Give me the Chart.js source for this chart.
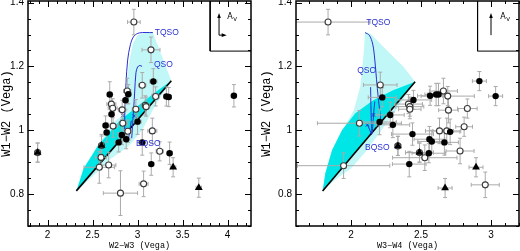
<!DOCTYPE html>
<html>
<head>
<meta charset="utf-8">
<script src="https://cdn.jsdelivr.net/npm/chart.js@4.4.1/dist/chart.umd.min.js"></script>
<style>
  html, body { margin: 0; padding: 0; background: #fff; }
  #wrap { position: relative; width: 520px; height: 251px; overflow: hidden; }
  canvas { position: absolute; top: 0; }
  #chartL { left: 0; }
  #chartR { left: 260px; }
</style>
</head>
<body>
<div id="wrap">
  <canvas id="chartL" width="260" height="251"></canvas>
  <canvas id="chartR" width="260" height="251"></canvas>
</div>
<script>
// ---- axes ----
const Y_TICKS = [0.8, 1, 1.2, 1.4];
const X_TICKS_L = [2, 2.5, 3, 3.5, 4];
const X_TICKS_R = [2, 2.5, 3];

// ---- left panel: W2-W3 vs W1-W2 ----  [x, y, xerr, yerr]
const OPEN_L = [
  [2.959, 1.339, 0.07, 0.04], [3.149, 1.252, 0.10, 0.04], [3.052, 1.141, 0.04, 0.04],
  [2.885, 1.123, 0.04, 0.04], [2.709, 1.082, 0.05, 0.03], [2.724, 1.069, 0.05, 0.03],
  [2.829, 1.064, 0.04, 0.03], [2.981, 1.066, 0.04, 0.03], [3.085, 1.078, 0.04, 0.03],
  [3.095, 1.074, 0.04, 0.03], [3.201, 1.106, 0.04, 0.03], [2.728, 1.013, 0.05, 0.035],
  [2.836, 1.022, 0.04, 0.035], [2.892, 0.997, 0.04, 0.035], [3.164, 0.998, 0.05, 0.04],
  [3.246, 0.934, 0.04, 0.03], [2.594, 0.915, 0.06, 0.035], [2.575, 0.884, 0.17, 0.05],
  [2.679, 0.891, 0.08, 0.04], [3.067, 0.832, 0.05, 0.04], [2.81, 0.803, 0.19, 0.07],
  [1.89, 0.93, 0.02, 0.03], [2.60, 0.952, 0.02, 0.03]
];
const FILLED_L = [
  [2.691, 1.112, 0.03, 0.04], [3.175, 1.153, 0.04, 0.04], [3.32, 1.106, 0.03, 0.03],
  [3.346, 1.104, 0.03, 0.03], [4.07, 1.108, 0.03, 0.035], [2.866, 1.094, 0.03, 0.03],
  [2.897, 1.113, 0.03, 0.03], [2.711, 1.05, 0.03, 0.03], [2.645, 1.015, 0.03, 0.03],
  [2.657, 0.993, 0.03, 0.03], [3.0, 1.027, 0.04, 0.04], [2.79, 0.962, 0.04, 0.03],
  [2.825, 0.985, 0.04, 0.03], [2.874, 0.972, 0.04, 0.03], [3.052, 0.962, 0.04, 0.04],
  [3.152, 0.894, 0.03, 0.035], [3.356, 0.928, 0.03, 0.035]
];
const TRI_L = [
  [1.89, 0.93, 0.03, 0.03], [2.60, 0.952, 0.03, 0.035], [3.395, 0.884, 0.03, 0.03], [3.68, 0.82, 0.03, 0.03]
];
const LIGHT_L = [
  [2.32, 0.81], [2.5, 0.855], [2.7, 0.91], [2.9, 0.95], [3.05, 1.0], [3.2, 1.08], [3.375, 1.155],
  [3.17, 1.306], [3.08, 1.305], [3.0, 1.298], [2.948, 1.272], [2.911, 1.22], [2.881, 1.157],
  [2.866, 1.084], [2.855, 1.05], [2.75, 1.03], [2.55, 0.95], [2.32, 0.81]
];
const DARK_L = [
  [2.32, 0.81], [2.40, 0.88], [2.556, 0.95], [2.8, 1.03], [3.0, 1.075], [3.2, 1.12], [3.375, 1.155], [2.32, 0.81]
];
const EDGE_L = [[2.32, 0.81], [3.375, 1.155]];
const TQSO_L = [[2.858, 0.99], [2.857, 1.04], [2.862, 1.09], [2.872, 1.15], [2.89, 1.22], [2.92, 1.268], [2.96, 1.295], [3.02, 1.305], [3.17, 1.306]];
const QSO_L = [[2.935, 0.975], [2.955, 1.06], [2.968, 1.12], [2.982, 1.18], [3.0, 1.198], [3.025, 1.203], [3.05, 1.2]];
const BQSO_L = [[2.90, 0.975], [2.915, 1.0], [2.93, 1.03]];
const CROSS_L = [[2.836, 1.046], [2.964, 1.045]];
const LABELS_L = [['TQSO', 3.324, 1.305], ['QSO', 3.287, 1.207], ['BQSO', 3.12, 0.957]];
const BOX_L = [[3.806, 1.405], [3.806, 1.248], [4.26, 1.248]];
const AV_L = { x: 3.905, y0: 1.298, y1: 1.3675, x1: 3.99, tx: 4.03, ty: 1.355 };

// ---- right panel: W3-W4 vs W1-W2 ----
const OPEN_R = [
  [1.836, 1.339, 0.30, 0.04], [2.209, 1.142, 0.12, 0.04], [2.06, 1.022, 0.30, 0.04],
  [1.947, 0.889, 0.33, 0.04], [2.41, 1.082, 0.10, 0.03], [2.42, 1.074, 0.10, 0.03],
  [2.42, 1.066, 0.08, 0.03], [2.66, 1.123, 0.10, 0.04], [2.691, 1.107, 0.19, 0.03],
  [2.696, 1.063, 0.07, 0.04], [2.831, 1.068, 0.07, 0.03], [2.632, 0.998, 0.10, 0.04],
  [2.684, 0.998, 0.10, 0.04], [2.808, 1.011, 0.06, 0.03], [2.779, 0.935, 0.10, 0.04],
  [2.489, 0.93, 0.10, 0.03], [2.527, 0.914, 0.23, 0.04], [2.959, 0.829, 0.10, 0.04],
  [2.335, 0.951, 0.02, 0.03]
];
const FILLED_R = [
  [2.223, 1.103, 0.10, 0.03], [2.446, 1.095, 0.13, 0.03], [2.28, 1.048, 0.10, 0.04],
  [2.204, 1.026, 0.12, 0.04], [2.299, 1.017, 0.12, 0.04], [2.439, 0.988, 0.15, 0.035],
  [2.565, 1.108, 0.09, 0.03], [2.608, 1.112, 0.08, 0.035], [2.625, 1.112, 0.08, 0.035],
  [2.917, 1.154, 0.05, 0.03], [3.033, 1.107, 0.05, 0.03], [2.708, 0.995, 0.07, 0.04],
  [2.667, 0.962, 0.10, 0.04], [2.56, 0.972, 0.11, 0.04], [2.577, 0.965, 0.10, 0.035],
  [2.556, 0.928, 0.12, 0.03], [2.416, 0.894, 0.12, 0.04]
];
const TRI_R = [
  [2.335, 0.951, 0.02, 0.03], [2.489, 0.93, 0.10, 0.03], [2.893, 0.884, 0.05, 0.03], [2.672, 0.819, 0.05, 0.03]
];
const LIGHT_R = [
  [1.797, 0.81], [1.9, 0.85], [2.0, 0.88], [2.1, 0.93], [2.2, 0.99], [2.3, 1.05], [2.458, 1.152],
  [2.375, 1.199], [2.256, 1.251], [2.138, 1.303], [2.10, 1.306], [2.09, 1.24], [2.066, 1.136],
  [2.02, 1.063], [1.94, 1.0], [1.865, 0.938], [1.817, 0.866], [1.797, 0.81]
];
const DARK_R = [
  [1.797, 0.81], [1.817, 0.866], [1.865, 0.938], [1.936, 1.001], [2.031, 1.053], [2.161, 1.095],
  [2.304, 1.126], [2.458, 1.152], [1.797, 0.81]
];
const EDGE_R = [[1.797, 0.81], [2.458, 1.152]];
const TQSO_R = [[2.10, 1.306], [2.13, 1.298], [2.155, 1.27], [2.17, 1.22], [2.182, 1.16], [2.195, 1.10], [2.205, 1.06], [2.21, 1.035], [2.2, 1.01]];
const QSO_R = [[2.14, 1.135], [2.142, 1.08], [2.145, 1.03], [2.15, 0.99], [2.158, 1.03], [2.163, 1.06], [2.17, 1.09]];
const BQSO_R = [[2.118, 1.017], [2.135, 1.0], [2.148, 0.985]];
const CROSS_R = [[2.117, 1.017], [2.16, 1.048]];
const LABELS_R = [['TQSO', 2.195, 1.336], ['QSO', 2.112, 1.186], ['BQSO', 2.188, 0.946]];
const BOX_R = [[2.904, 1.405], [2.904, 1.248], [3.2, 1.248]];
const AV_R = { x: 3.0, y0: 1.298, y1: 1.3675, x1: null, tx: 3.088, ty: 1.355 };

const BLUE = '#2a2fd0';
const pts = arr => arr.map(p => ({ x: p[0], y: p[1] }));

// error bars under the symbols, inward ticks + full frame, track labels, A_V arrow
const framePlugin = {
  id: 'frameTicks',
  beforeDatasetDraw(chart, args) {
    if (chart.data.datasets[args.index].errKey !== 'first') return;
    const { ctx, chartArea: a, scales: { x, y } } = chart;
    const errs = chart.options.plugins.frameTicks.errors;
    ctx.save();
    ctx.beginPath();
    ctx.rect(a.left, a.top, a.right - a.left, a.bottom - a.top);
    ctx.clip();
    ctx.strokeStyle = '#aaaaaa';
    ctx.lineWidth = 1;
    ctx.beginPath();
    errs.forEach(e => {
      const px = x.getPixelForValue(e[0]), py = y.getPixelForValue(e[1]);
      const x0 = x.getPixelForValue(e[0] - e[2]), x1 = x.getPixelForValue(e[0] + e[2]);
      const y0 = y.getPixelForValue(e[1] - e[3]), y1 = y.getPixelForValue(e[1] + e[3]);
      ctx.moveTo(x0, py); ctx.lineTo(x1, py);
      ctx.moveTo(x0, py - 2); ctx.lineTo(x0, py + 2);
      ctx.moveTo(x1, py - 2); ctx.lineTo(x1, py + 2);
      ctx.moveTo(px, y0); ctx.lineTo(px, y1);
      ctx.moveTo(px - 2, y0); ctx.lineTo(px + 2, y0);
      ctx.moveTo(px - 2, y1); ctx.lineTo(px + 2, y1);
    });
    ctx.stroke();
    ctx.restore();
  },
  afterDatasetsDraw(chart) {
    const { ctx, chartArea: a, scales: { x, y } } = chart;
    const o = chart.options.plugins.frameTicks;
    ctx.save();
    // track labels
    ctx.fillStyle = BLUE;
    ctx.font = '8.5px "Liberation Sans", sans-serif';
    ctx.textAlign = 'center';
    ctx.textBaseline = 'middle';
    o.labels.forEach(l => ctx.fillText(l[0], x.getPixelForValue(l[1]), y.getPixelForValue(l[2])));
    // A_V arrow
    const av = o.av;
    ctx.strokeStyle = '#000';
    ctx.fillStyle = '#000';
    ctx.lineWidth = 1;
    const ax = x.getPixelForValue(av.x), ay0 = y.getPixelForValue(av.y0), ay1 = y.getPixelForValue(av.y1);
    ctx.beginPath();
    ctx.moveTo(ax, ay0); ctx.lineTo(ax, ay1 + 4);
    if (av.x1 !== null) { ctx.moveTo(ax, ay0); ctx.lineTo(x.getPixelForValue(av.x1) - 3, ay0); }
    ctx.stroke();
    ctx.beginPath();
    ctx.moveTo(ax, ay1); ctx.lineTo(ax - 1.8, ay1 + 5); ctx.lineTo(ax + 1.8, ay1 + 5); ctx.closePath();
    if (av.x1 !== null) {
      const hx = x.getPixelForValue(av.x1);
      ctx.moveTo(hx, ay0); ctx.lineTo(hx - 5, ay0 - 1.8); ctx.lineTo(hx - 5, ay0 + 1.8); ctx.closePath();
    }
    ctx.fill();
    const tx = x.getPixelForValue(av.tx), ty = y.getPixelForValue(av.ty);
    ctx.font = '8px "DejaVu Sans", sans-serif';
    ctx.textAlign = 'left';
    ctx.fillText('A', tx - 3, ty);
    ctx.font = '5.5px "DejaVu Sans", sans-serif';
    ctx.fillText('V', tx + 3, ty + 3);
    // inward ticks on all four sides
    ctx.beginPath();
    for (let i = Math.ceil(x.min * 10); i <= Math.floor(x.max * 10); i++) {
      const px = Math.round(x.getPixelForValue(i / 10)) + 0.5;
      const len = i % 5 === 0 ? 6 : 3;
      ctx.moveTo(px, a.bottom); ctx.lineTo(px, a.bottom - len);
      ctx.moveTo(px, a.top); ctx.lineTo(px, a.top + len);
    }
    for (let i = Math.ceil(y.min * 20); i <= Math.floor(y.max * 20); i++) {
      const py = Math.round(y.getPixelForValue(i / 20)) + 0.5;
      const len = i % 4 === 0 ? 6 : 3;
      ctx.moveTo(a.left, py); ctx.lineTo(a.left + len, py);
      ctx.moveTo(a.right, py); ctx.lineTo(a.right - len, py);
    }
    ctx.stroke();
    ctx.lineWidth = 1.5;
    ctx.strokeRect(a.left, a.top, a.right - a.left, a.bottom - a.top);
    ctx.restore();
  }
};

function buildChart(id, p) {
  const datasets = [
    { data: pts(p.light), showLine: true, fill: 'shape', backgroundColor: '#c2f7f7', borderWidth: 0, pointRadius: 0, order: 20 },
    { data: pts(p.dark), showLine: true, fill: 'shape', backgroundColor: '#00e6e6', borderWidth: 0, pointRadius: 0, order: 19 },
    { data: pts(p.edge), showLine: true, borderColor: '#000', borderWidth: 1.6, pointRadius: 0, order: 18 },
    { data: pts(p.tqso), showLine: true, borderColor: BLUE, borderWidth: 1, tension: 0.35, pointRadius: 0, order: 17 },
    { data: pts(p.qso), showLine: true, borderColor: BLUE, borderWidth: 1, tension: 0.35, pointRadius: 0, order: 16 },
    { data: pts(p.bqso), showLine: true, borderColor: BLUE, borderWidth: 1, tension: 0.35, pointRadius: 0, order: 15 },
    { data: pts(p.cross), pointStyle: 'crossRot', pointRadius: 2.5, borderColor: BLUE, borderWidth: 1, order: 14 },
    { data: pts(p.box), showLine: true, borderColor: '#000', borderWidth: 1, pointRadius: 0, order: 13 },
    { data: pts(p.open), errKey: 'first', pointStyle: 'circle', pointRadius: 3, backgroundColor: '#fff', borderColor: '#3a3a3a', borderWidth: 1.1, order: 3 },
    { data: pts(p.filled), pointStyle: 'circle', pointRadius: 3.2, backgroundColor: '#000', borderColor: '#000', borderWidth: 0, order: 2 },
    { data: pts(p.tri), pointStyle: 'triangle', pointRadius: 4.5, backgroundColor: '#000', borderColor: '#000', borderWidth: 0, order: 1 }
  ];
  const tickFont = { family: '"Liberation Sans", sans-serif', size: 10 };
  return new Chart(document.getElementById(id), {
    type: 'scatter',
    data: { datasets },
    options: {
      responsive: false,
      animation: false,
      devicePixelRatio: 1,
      layout: { autoPadding: false, padding: { top: 1, right: p.padRight, bottom: 0, left: 0 } },
      plugins: {
        legend: { display: false },
        tooltip: { enabled: false },
        frameTicks: { errors: p.open.concat(p.filled, p.tri), labels: p.labels, av: p.av }
      },
      scales: {
        x: {
          type: 'linear', min: p.xmin, max: p.xmax,
          afterBuildTicks: s => { s.ticks = p.xticks.map(v => ({ value: v })); },
          afterFit: s => { s.height = 25; s.paddingLeft = 0; s.paddingRight = 0; },
          grid: { display: false, drawTicks: false }, border: { display: false },
          ticks: { color: '#000', font: tickFont, padding: 3, maxRotation: 0, autoSkip: false, callback: v => String(v) },
          title: { display: true, text: p.xtitle, color: '#000', font: { family: '"Liberation Mono", monospace', size: 8.5 }, padding: 0 }
        },
        y: {
          type: 'linear', min: 0.7, max: 1.405,
          afterBuildTicks: s => { s.ticks = Y_TICKS.map(v => ({ value: v })); },
          afterFit: s => { s.width = p.yWidth; s.paddingTop = 0; s.paddingBottom = 0; },
          grid: { display: false, drawTicks: false }, border: { display: false },
          ticks: { color: '#000', font: tickFont, padding: 4, autoSkip: false, callback: v => String(v) },
          title: { display: true, text: 'W1−W2 (Vega)', color: '#000', font: { family: '"Liberation Mono", monospace', size: 12 }, padding: 0 }
        }
      }
    },
    plugins: [framePlugin]
  });
}

buildChart('chartL', {
  light: LIGHT_L, dark: DARK_L, edge: EDGE_L, tqso: TQSO_L, qso: QSO_L, bqso: BQSO_L, cross: CROSS_L,
  box: BOX_L, open: OPEN_L, filled: FILLED_L, tri: TRI_L, labels: LABELS_L, av: AV_L,
  xmin: 1.783, xmax: 4.26, xticks: X_TICKS_L, xtitle: 'W2−W3 (Vega)', yWidth: 28, padRight: 9
});
buildChart('chartR', {
  light: LIGHT_R, dark: DARK_R, edge: EDGE_R, tqso: TQSO_R, qso: QSO_R, bqso: BQSO_R, cross: CROSS_R,
  box: BOX_R, open: OPEN_R, filled: FILLED_R, tri: TRI_R, labels: LABELS_R, av: AV_R,
  xmin: 1.607, xmax: 3.2, xticks: X_TICKS_R, xtitle: 'W3−W4 (Vega)', yWidth: 36, padRight: 1
});
</script>
</body>
</html>
